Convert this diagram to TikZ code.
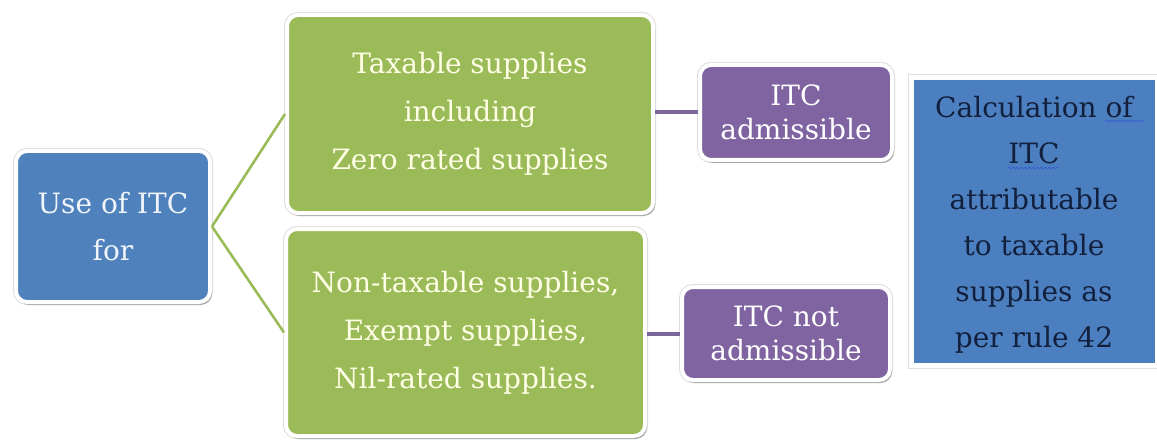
\documentclass[tikz,border=0pt]{standalone}
\usepackage{fontspec}
\setmainfont{DejaVu Serif}
\usetikzlibrary{shadows,decorations.pathmorphing}

\definecolor{boxblue}{HTML}{4F81BD}
\definecolor{boxgreen}{HTML}{9BBB59}
\definecolor{boxpurple}{HTML}{8064A2}
\definecolor{calcblue}{HTML}{4B7FC0}
\definecolor{navytext}{HTML}{12203D}
\definecolor{wavecol}{HTML}{3A5FD0}
\definecolor{linkgreen}{HTML}{9BBB59}
\definecolor{linkpurple}{HTML}{7B6898}

\tikzset{
  card/.style={draw=white, line width=4pt, rounded corners=11pt,
    preaction={draw=black!13, line width=6pt},
    drop shadow={shadow xshift=2pt, shadow yshift=-3pt, fill=black, opacity=.25},
    align=center, inner sep=0pt},
  rootbox/.style={card, fill=boxblue, text=white!92!boxblue,
    minimum width=194pt, minimum height=151pt,
    font=\fontsize{28}{47}\selectfont},
  supplybox/.style={card, fill=boxgreen, text=white!90!yellow,
    font=\fontsize{28}{48}\selectfont},
  verdictbox/.style={card, fill=boxpurple, text=white,
    font=\fontsize{28}{34}\selectfont},
  calcbox/.style={draw=white, line width=5pt,
    preaction={draw=black!12, line width=7pt},
    drop shadow={shadow xshift=2pt, shadow yshift=-3pt, fill=black, opacity=.2},
    fill=calcblue, inner sep=0pt,
    minimum width=246pt, minimum height=287pt},
  calctext/.style={text=navytext, align=center, inner sep=0pt,
    font=\fontsize{28}{46}\selectfont},
  greenlink/.style={draw=linkgreen, line width=2.6pt},
  purplelink/.style={draw=linkpurple, line width=4pt},
  spellwave/.style={draw=wavecol, line width=0.8pt,
    decorate, decoration={snake, segment length=4pt, amplitude=0.9pt}},
}

\begin{document}
\begin{tikzpicture}[x=1pt, y=-1pt]
  \fill[white] (0,0) rectangle (1157,441);
  \useasboundingbox (0,0) rectangle (1157,441);

  \node[rootbox] (use) at (113,226.5) {Use of ITC\\for};

  \node[supplybox, minimum width=366pt, minimum height=198pt] (taxable) at (470,114)
    {Taxable supplies\\including\\Zero rated supplies};
  \node[supplybox, minimum width=359pt, minimum height=207pt] (exempt) at (465.5,332.5)
    {Non-taxable supplies,\\Exempt supplies,\\Nil-rated supplies.};

  \node[verdictbox, minimum width=192pt, minimum height=95pt] (adm) at (796,112.5)
    {ITC\\admissible};
  \node[verdictbox, minimum width=208pt, minimum height=93pt] (notadm) at (786,333.5)
    {ITC not\\admissible};

  \node[calcbox] (calc) at (1034,221.5) {};
  \node[calctext] (calctxt) at (1034,225)
    {Calculation of\\ITC\\attributable\\to taxable\\supplies as\\per rule 42};

  % wavy marks under "of" and "ITC"
  \draw[spellwave] ([shift={(71,-104)}]calctxt.center) -- ([shift={(110,-104)}]calctxt.center);
  \draw[spellwave] ([shift={(-26,-57)}]calctxt.center) -- ([shift={(25,-57)}]calctxt.center);

  \draw[greenlink] (use.east) -- (taxable.west);
  \draw[greenlink] (use.east) -- (exempt.west);
  \draw[purplelink] (adm.west -| taxable.east) -- (adm.west);
  \draw[purplelink] (notadm.west -| exempt.east) -- (notadm.west);
\end{tikzpicture}
\end{document}
